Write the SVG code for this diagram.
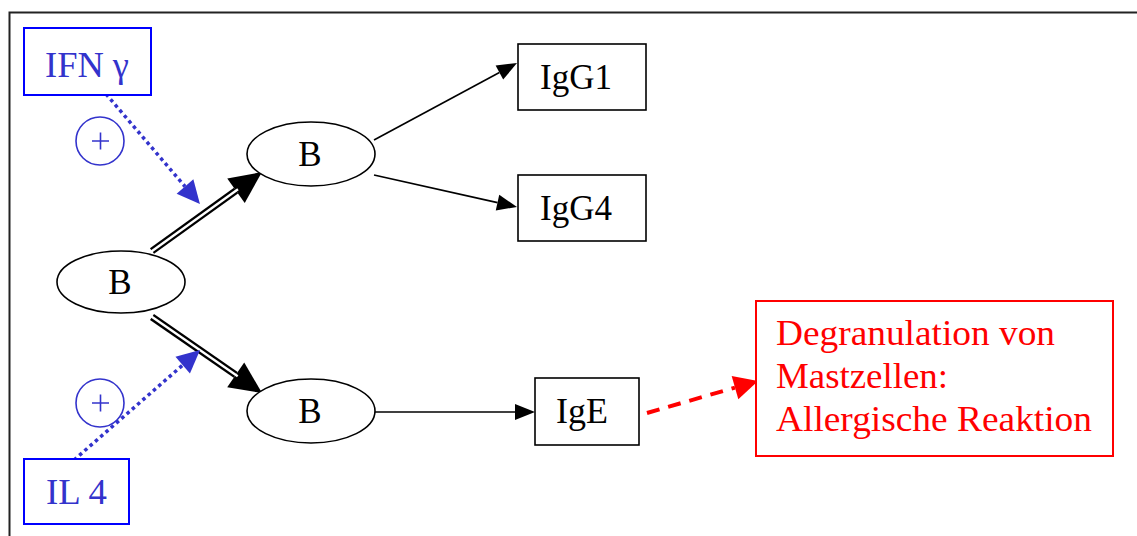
<svg xmlns="http://www.w3.org/2000/svg" width="1137" height="536" viewBox="0 0 1137 536">
<style>
text{font-family:"Liberation Serif","Times New Roman",serif;font-size:35px}
.n{fill:#fff;stroke:#000;stroke-width:1.6}
.t{fill:#000;text-anchor:middle}
.bl{fill:#fff;stroke:#0000ff;stroke-width:2}
.bt{fill:#3333cc}
.plus{fill:none;stroke:#3333cc;stroke-width:1.6}
.thin{stroke:#000;stroke-width:1.6;fill:none}
.dbl{stroke:#000;stroke-width:7;fill:none}
.dblw{stroke:#fff;stroke-width:2.4;fill:none}
.dot{stroke:#3333cc;stroke-width:3.5;stroke-dasharray:3.5 3.5;fill:none}
.red{stroke:#ff0000;stroke-width:4;stroke-dasharray:13 9;fill:none}
</style>
<defs>
<marker id="big" markerUnits="userSpaceOnUse" orient="auto" refX="0" refY="0" markerWidth="40" markerHeight="40" viewBox="0 -20 40 40" overflow="visible"><path d="M0,-15 L32,0 L0,15 z" fill="#000"/></marker>
<marker id="sm" markerUnits="userSpaceOnUse" orient="auto" refX="0" refY="0" markerWidth="25" markerHeight="20" viewBox="0 -10 25 20" overflow="visible"><path d="M0,-8 L20,0 L0,8 z" fill="#000"/></marker>
<marker id="blu" markerUnits="userSpaceOnUse" orient="auto" refX="0" refY="0" markerWidth="30" markerHeight="30" viewBox="0 -15 30 30" overflow="visible"><path d="M0,-11 L23,0 L0,11 z" fill="#3333cc"/></marker>
<marker id="rd" markerUnits="userSpaceOnUse" orient="auto" refX="0" refY="0" markerWidth="30" markerHeight="30" viewBox="0 -15 30 30" overflow="visible"><path d="M0,-12 L24,0 L0,12 z" fill="#ff0000"/></marker>
</defs>
<path d="M9.5,537 V12.5 H1138" fill="none" stroke="#222" stroke-width="2"/>
<g id="connectors">
<path class="dbl" d="M152,251 L236,190.7" marker-end="url(#big)"/>
<path class="dblw" d="M150,252.4 L238,189.3"/>
<path class="dbl" d="M152,317 L235.7,374.8" marker-end="url(#big)"/>
<path class="dblw" d="M150,315.6 L237.7,376.2"/>
<path class="thin" d="M374,140 L499.4,72.5" marker-end="url(#sm)"/>
<path class="thin" d="M374,175 L497.5,202.6" marker-end="url(#sm)"/>
<path class="thin" d="M375,412 L515,412" marker-end="url(#sm)"/>
<path class="dot" d="M106,94 L185,186.5" marker-end="url(#blu)"/>
<path class="dot" d="M74,460 L182.7,365.1" marker-end="url(#blu)"/>
<path class="red" d="M647,413 L735,387.6" marker-end="url(#rd)"/>
</g>
<g id="ifn"><rect class="bl" x="24" y="28" width="127" height="67"/><text class="bt" x="45" y="77" textLength="84" lengthAdjust="spacingAndGlyphs">IFN γ</text></g>
<g id="il4"><rect class="bl" x="24" y="459" width="105" height="65"/><text class="bt" x="46" y="504" textLength="61" lengthAdjust="spacingAndGlyphs">IL 4</text></g>
<g id="plus1"><circle class="plus" cx="100" cy="141" r="24"/><path class="plus" d="M92,141 H109 M100.5,132.5 V149.5" stroke-width="1.3"/></g>
<g id="plus2"><circle class="plus" cx="100" cy="403" r="24"/><path class="plus" d="M92,403 H109 M100.5,394.5 V411.5" stroke-width="1.3"/></g>
<g id="b0"><ellipse class="n" cx="121" cy="282" rx="64" ry="31"/><text class="t" x="120" y="294">B</text></g>
<g id="b1"><ellipse class="n" cx="311" cy="154" rx="64" ry="32"/><text class="t" x="310" y="166">B</text></g>
<g id="b2"><ellipse class="n" cx="311" cy="411" rx="64" ry="32"/><text class="t" x="310" y="423">B</text></g>
<g id="igg1"><rect class="n" x="518" y="44" width="128" height="66"/><text class="t" x="576" y="89" textLength="72" lengthAdjust="spacingAndGlyphs">IgG1</text></g>
<g id="igg4"><rect class="n" x="518" y="175" width="128" height="66"/><text class="t" x="576" y="220" textLength="72" lengthAdjust="spacingAndGlyphs">IgG4</text></g>
<g id="ige"><rect class="n" x="535" y="378" width="104" height="67"/><text class="t" x="582" y="423" textLength="52" lengthAdjust="spacingAndGlyphs">IgE</text></g>
<g id="degr"><rect x="756" y="301" width="357" height="155" fill="#fff" stroke="#ff0000" stroke-width="2"/>
<text fill="#ff0000" x="776" y="345" textLength="279" lengthAdjust="spacingAndGlyphs">Degranulation von</text>
<text fill="#ff0000" x="776" y="388" textLength="172" lengthAdjust="spacingAndGlyphs">Mastzellen:</text>
<text fill="#ff0000" x="776" y="431" textLength="316" lengthAdjust="spacingAndGlyphs">Allergische Reaktion</text></g>
</svg>
